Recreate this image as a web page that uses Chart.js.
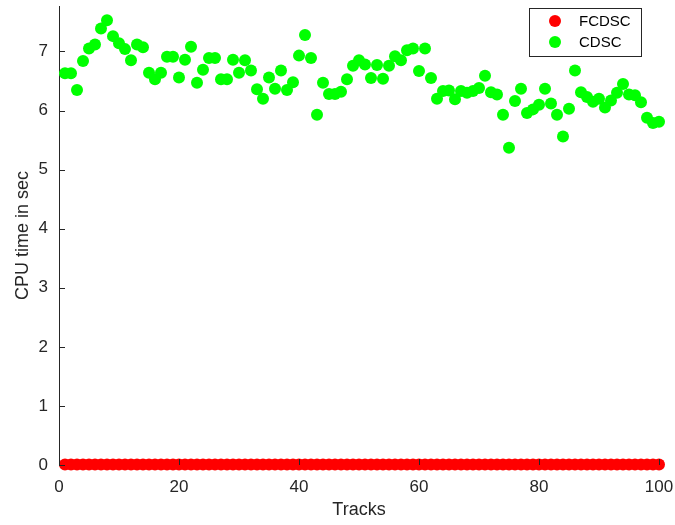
<!DOCTYPE html>
<html>
<head>
<meta charset="utf-8">
<script src="https://cdn.jsdelivr.net/npm/chart.js@4/dist/chart.umd.min.js"></script>
<style>
  html, body { margin: 0; padding: 0; background: #fff; }
  #wrap { width: 675px; height: 525px; }
</style>
</head>
<body>
<div id="wrap"><canvas id="cpuChart" width="675" height="525"></canvas></div>
<script>
// track numbers on the x axis
const tracks = [
    1, 2, 3, 4, 5, 6, 7, 8, 9, 10, 11, 12, 13, 14, 15, 16, 17, 18, 19, 20,
    21, 22, 23, 24, 25, 26, 27, 28, 29, 30, 31, 32, 33, 34, 35, 36, 37, 38, 39, 40,
    41, 42, 43, 44, 45, 46, 47, 48, 49, 50, 51, 52, 53, 54, 55, 56, 57, 58, 59, 60,
    61, 62, 63, 64, 65, 66, 67, 68, 69, 70, 71, 72, 73, 74, 75, 76, 77, 78, 79, 80,
    81, 82, 83, 84, 85, 86, 87, 88, 89, 90, 91, 92, 93, 94, 95, 96, 97, 98, 99, 100
];

// CPU time (sec)
const fcdscTime = [
    0.01, 0.01, 0.01, 0.01, 0.01, 0.01, 0.01, 0.01, 0.01, 0.01,
    0.01, 0.01, 0.01, 0.01, 0.01, 0.01, 0.01, 0.01, 0.01, 0.01,
    0.01, 0.01, 0.01, 0.01, 0.01, 0.01, 0.01, 0.01, 0.01, 0.01,
    0.01, 0.01, 0.01, 0.01, 0.01, 0.01, 0.01, 0.01, 0.01, 0.01,
    0.01, 0.01, 0.01, 0.01, 0.01, 0.01, 0.01, 0.01, 0.01, 0.01,
    0.01, 0.01, 0.01, 0.01, 0.01, 0.01, 0.01, 0.01, 0.01, 0.01,
    0.01, 0.01, 0.01, 0.01, 0.01, 0.01, 0.01, 0.01, 0.01, 0.01,
    0.01, 0.01, 0.01, 0.01, 0.01, 0.01, 0.01, 0.01, 0.01, 0.01,
    0.01, 0.01, 0.01, 0.01, 0.01, 0.01, 0.01, 0.01, 0.01, 0.01,
    0.01, 0.01, 0.01, 0.01, 0.01, 0.01, 0.01, 0.01, 0.01, 0.01
];

const cdscTime = [
    6.63, 6.63, 6.35, 6.84, 7.05, 7.12, 7.39, 7.53, 7.26, 7.14,
    7.04, 6.85, 7.12, 7.07, 6.64, 6.53, 6.64, 6.91, 6.91, 6.56,
    6.86, 7.08, 6.47, 6.69, 6.89, 6.89, 6.53, 6.53, 6.86, 6.64,
    6.85, 6.68, 6.36, 6.20, 6.56, 6.37, 6.68, 6.35, 6.48, 6.93,
    7.28, 6.89, 5.93, 6.47, 6.28, 6.28, 6.32, 6.53, 6.76, 6.85,
    6.78, 6.55, 6.77, 6.54, 6.76, 6.92, 6.85, 7.02, 7.05, 6.67,
    7.05, 6.55, 6.20, 6.33, 6.34, 6.19, 6.33, 6.30, 6.33, 6.38,
    6.59, 6.31, 6.27, 5.93, 5.37, 6.16, 6.37, 5.96, 6.02, 6.10,
    6.37, 6.12, 5.93, 5.56, 6.03, 6.68, 6.31, 6.23, 6.15, 6.20,
    6.05, 6.17, 6.30, 6.45, 6.27, 6.26, 6.14, 5.88, 5.79, 5.81
];

const xTicks = [0, 20, 40, 60, 80, 100];
const yTicks = [0, 1, 2, 3, 4, 5, 6, 7];

const axisColor = '#262626';

function toPoints(values) {
    return tracks.map((t, i) => ({ x: t, y: values[i] }));
}

// MATLAB style ticks pointing into the plot
const innerTicks = {
    id: 'innerTicks',
    afterDraw(chart) {
        const c = chart.ctx;
        const xs = chart.scales.x;
        const ys = chart.scales.y;
        const area = chart.chartArea;
        c.save();
        c.strokeStyle = axisColor;
        c.lineWidth = 1;
        c.beginPath();
        yTicks.forEach(v => {
            const py = Math.round(ys.getPixelForValue(v)) + 0.5;
            c.moveTo(area.left, py);
            c.lineTo(area.left + 6, py);
        });
        xTicks.forEach(v => {
            const px = Math.round(xs.getPixelForValue(v)) + 0.5;
            c.moveTo(px, area.bottom);
            c.lineTo(px, area.bottom - 6);
        });
        c.stroke();
        c.restore();
    }
};

// legend box in the top right corner
const boxLegend = {
    id: 'boxLegend',
    afterDraw(chart) {
        const c = chart.ctx;
        c.save();
        c.fillStyle = '#fff';
        c.fillRect(529.5, 8.5, 112, 48);
        c.strokeStyle = axisColor;
        c.lineWidth = 1;
        c.strokeRect(529.5, 8.5, 112, 48);
        chart.data.datasets.forEach((ds, i) => {
            const cy = 21 + i * 21;
            c.beginPath();
            c.arc(555, cy, 6, 0, Math.PI * 2);
            c.fillStyle = ds.backgroundColor;
            c.fill();
            c.fillStyle = '#000';
            c.font = '15px "Liberation Sans", Arial, sans-serif';
            c.textAlign = 'left';
            c.textBaseline = 'middle';
            c.fillText(ds.label, 579, cy + 1);
        });
        c.restore();
    }
};

const ctx = document.getElementById('cpuChart').getContext('2d');
const chart = new Chart(ctx, {
    type: 'scatter',
    data: {
        datasets: [{
            label: 'FCDSC',
            data: toPoints(fcdscTime),
            backgroundColor: '#ff0000',
            borderColor: '#ff0000',
            pointRadius: 6,
            pointBorderWidth: 0,
            clip: false
        }, {
            label: 'CDSC',
            data: toPoints(cdscTime),
            backgroundColor: '#00ff00',
            borderColor: '#00ff00',
            pointRadius: 6,
            pointBorderWidth: 0,
            clip: false
        }]
    },
    options: {
        responsive: false,
        animation: false,
        devicePixelRatio: 1,
        layout: {
            padding: { top: 4, right: 16, left: 0, bottom: 0 }
        },
        plugins: {
            legend: { display: false },
            tooltip: { enabled: false }
        },
        scales: {
            x: {
                type: 'linear',
                min: 0,
                max: 100,
                afterBuildTicks: (scale) => {
                    scale.ticks = xTicks.map(v => ({ value: v }));
                },
                afterFit: (scale) => {
                    scale.height = 60;
                    scale.paddingLeft = 0;
                    scale.paddingRight = 0;
                },
                grid: { display: false, drawTicks: false },
                border: { display: true, color: axisColor, width: 1 },
                ticks: {
                    color: axisColor,
                    padding: 12,
                    maxRotation: 0,
                    font: { family: '"Liberation Sans", Arial, sans-serif', size: 17 }
                },
                title: {
                    display: true,
                    text: 'Tracks',
                    color: axisColor,
                    padding: { top: 0, bottom: 4 },
                    font: { family: '"Liberation Sans", Arial, sans-serif', size: 18 }
                }
            },
            y: {
                min: 0,
                max: 7.77,
                afterBuildTicks: (scale) => {
                    scale.ticks = yTicks.map(v => ({ value: v }));
                },
                afterFit: (scale) => {
                    scale.width = 59;
                    scale.paddingTop = 0;
                    scale.paddingBottom = 0;
                },
                grid: { display: false, drawTicks: false },
                border: { display: true, color: axisColor, width: 1 },
                ticks: {
                    color: axisColor,
                    padding: 11,
                    font: { family: '"Liberation Sans", Arial, sans-serif', size: 17 }
                },
                title: {
                    display: true,
                    text: 'CPU time in sec',
                    color: axisColor,
                    padding: { top: 12, bottom: 0 },
                    font: { family: '"Liberation Sans", Arial, sans-serif', size: 18 }
                }
            }
        }
    },
    plugins: [innerTicks, boxLegend]
});
</script>
</body>
</html>
